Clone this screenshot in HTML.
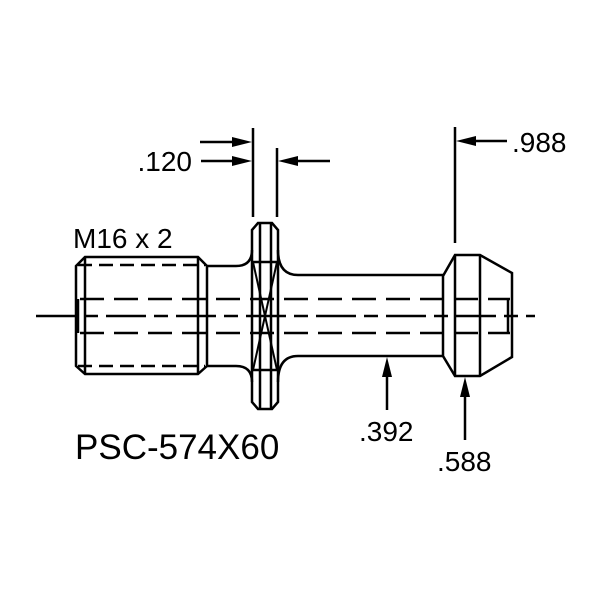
<!DOCTYPE html>
<html><head><style>body{margin:0;background:#fff}svg{display:block}</style></head><body>
<svg width="600" height="600" viewBox="0 0 600 600" xmlns="http://www.w3.org/2000/svg" font-family="Liberation Sans, Arial, sans-serif" fill="none" stroke="#000" stroke-width="2.5">
<path d="M85 257 H198 L207 266 V366 L198 374 H85 L76 366 V266 Z"/>
<line x1="85" y1="257" x2="85" y2="374"/>
<line x1="198" y1="257" x2="198" y2="374"/>
<line x1="78" y1="265" x2="205" y2="265" stroke-dasharray="14,7"/>
<line x1="78" y1="366" x2="205" y2="366" stroke-dasharray="14,7"/>
<line x1="78" y1="299" x2="78" y2="333"/>
<path d="M207 266 H236 Q252 266 252 250"/>
<path d="M207 366 H236 Q252 366 252 382"/>
<path d="M252 230 L258 223 H272 L278 230 V402 L272 409 H258 L252 402 Z"/>
<line x1="260" y1="223" x2="260" y2="409"/>
<line x1="271" y1="223" x2="271" y2="409"/>
<line x1="252" y1="262" x2="278" y2="262"/>
<line x1="252" y1="370" x2="278" y2="370"/>
<line x1="253" y1="262" x2="277" y2="370" stroke-width="2"/>
<line x1="277" y1="262" x2="253" y2="370" stroke-width="2"/>
<path d="M278 250 Q278 275 298 275 H443"/>
<path d="M278 382 Q278 356 298 356 H443"/>
<path d="M443 276 L455 255 H480 L512 273 V357 L480 376 H455 L443 356 Z"/>
<line x1="455" y1="255" x2="455" y2="376"/>
<line x1="480" y1="255" x2="480" y2="376"/>
<line x1="508" y1="299" x2="508" y2="333"/>
<line x1="80" y1="299" x2="510" y2="299" stroke-dasharray="24,10"/>
<line x1="80" y1="333" x2="510" y2="333" stroke-dasharray="24,10"/>
<line x1="36" y1="316" x2="535" y2="316" stroke-dasharray="40,8,14,8"/>
<line x1="253" y1="128" x2="253" y2="217"/>
<line x1="277" y1="148" x2="277" y2="217"/>
<line x1="200" y1="142" x2="240" y2="142"/>
<line x1="201" y1="161" x2="240" y2="161"/>
<line x1="290" y1="161" x2="330" y2="161"/>
<line x1="455" y1="127" x2="455" y2="243"/>
<line x1="467" y1="141" x2="507" y2="141"/>
<line x1="387" y1="369" x2="387" y2="410"/>
<line x1="465" y1="389" x2="465" y2="440"/>
<g fill="#000" stroke="none">
<polygon points="252,142 232,137 232,147"/>
<polygon points="252,161 232,156 232,166"/>
<polygon points="278,161 298,156 298,166"/>
<polygon points="456,141 476,136 476,146"/>
<polygon points="387,357 382,377 392,377"/>
<polygon points="465,377 460,397 470,397"/>
<text x="192" y="171" font-size="28" text-anchor="end">.120</text>
<text x="73" y="248" font-size="28">M16 x 2</text>
<text x="512" y="152" font-size="28">.988</text>
<text x="359" y="441" font-size="28">.392</text>
<text x="437" y="471" font-size="28">.588</text>
<text x="75" y="459" font-size="35">PSC-574X60</text>
</g>
</svg>
</body></html>
